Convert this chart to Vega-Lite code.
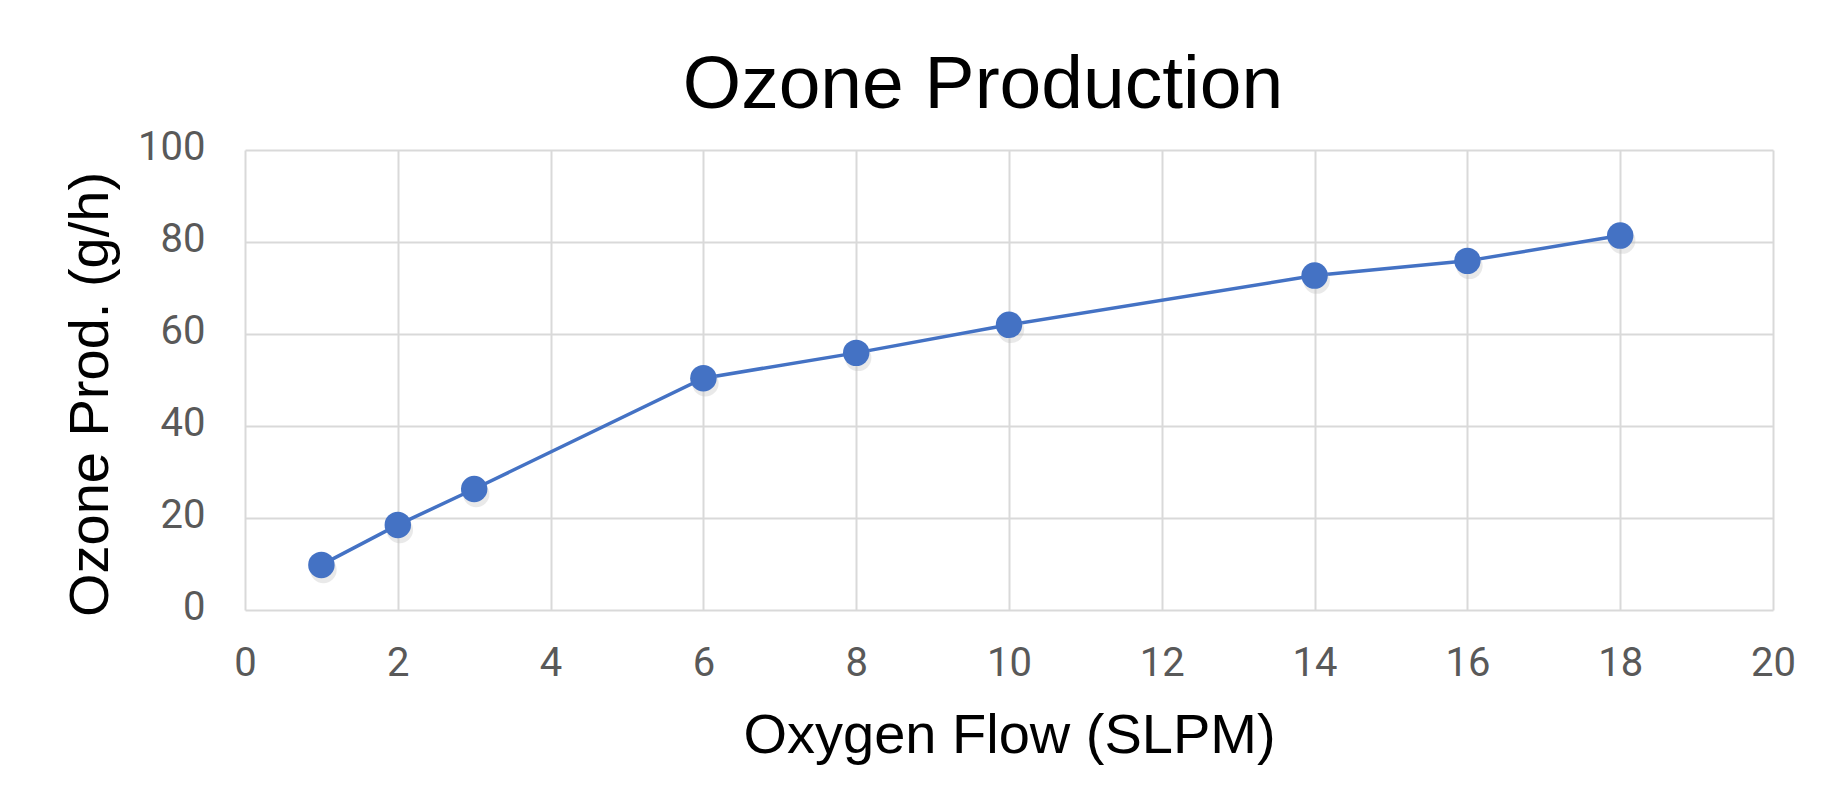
{
  "$schema": "https://vega.github.io/schema/vega-lite/v6.json",
  "autosize": "none",
  "width": 1528,
  "height": 460,
  "padding": {"left": 245, "top": 150, "right": 69, "bottom": 201},
  "background": "white",
  "title": {
    "text": "Ozone Production",
    "font": "Liberation Sans",
    "fontSize": 75,
    "fontWeight": "normal",
    "color": "#000000",
    "anchor": "middle",
    "frame": "group",
    "offset": 3,
    "dx": -26
  },
  "data": {
    "values": [
      {"flow": 1, "ozone": 9.8},
      {"flow": 2, "ozone": 18.5},
      {"flow": 3, "ozone": 26.3},
      {"flow": 6, "ozone": 50.4},
      {"flow": 8, "ozone": 55.9},
      {"flow": 10, "ozone": 62.0},
      {"flow": 14, "ozone": 72.7},
      {"flow": 16, "ozone": 75.9},
      {"flow": 18, "ozone": 81.4}
    ]
  },
  "encoding": {
    "x": {
      "field": "flow",
      "type": "quantitative",
      "title": "Oxygen Flow (SLPM)",
      "scale": {"domain": [0, 20], "nice": false},
      "axis": {"values": [0, 2, 4, 6, 8, 10, 12, 14, 16, 18, 20], "labelPadding": 33, "titlePadding": 25, "labelFlush": false}
    },
    "y": {
      "field": "ozone",
      "type": "quantitative",
      "title": "Ozone Prod. (g/h)",
      "scale": {"domain": [0, 100], "nice": false},
      "axis": {"values": [0, 20, 40, 60, 80, 100], "labelPadding": 40, "titlePadding": 18, "titleY": 244, "labelOffset": -3, "labelFlush": false}
    }
  },
  "layer": [
    {
      "mark": {"type": "line", "color": "#4472C4", "strokeWidth": 3.5}
    },
    {
      "mark": {"type": "point", "filled": true, "shape": "circle", "size": 700, "color": "#bfbfbf", "opacity": 0.35, "xOffset": 2, "yOffset": 5}
    },
    {
      "mark": {"type": "point", "filled": true, "shape": "circle", "size": 700, "color": "#4472C4", "opacity": 1}
    }
  ],
  "config": {
    "view": {"stroke": null},
    "axis": {
      "grid": true,
      "gridColor": "#d9d9d9",
      "gridWidth": 2,
      "domain": false,
      "ticks": false,
      "tickSize": 0,
      "labelFont": "Roboto",
      "labelFontSize": 40,
      "labelColor": "#595959",
      "titleFont": "Liberation Sans",
      "titleFontSize": 56,
      "titleFontWeight": "normal",
      "titleColor": "#000000"
    }
  }
}
